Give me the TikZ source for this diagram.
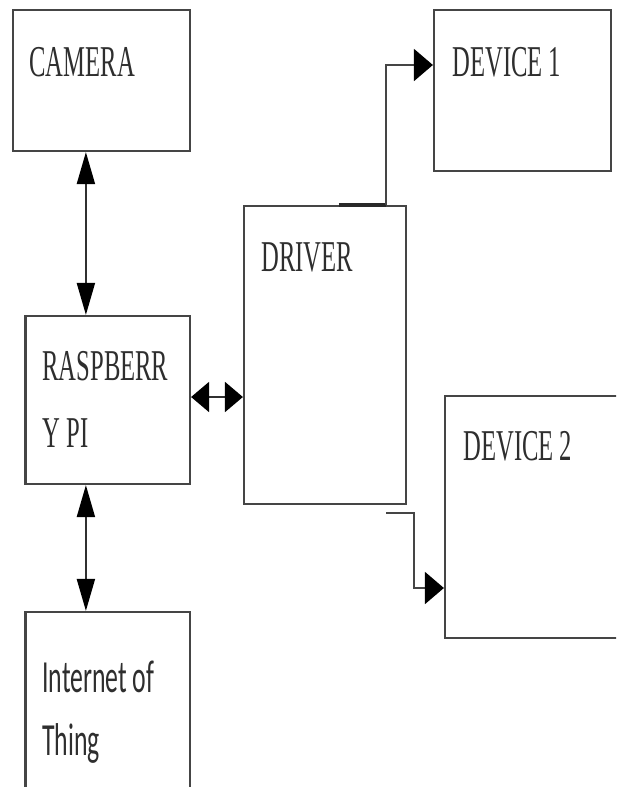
\documentclass[tikz,border=0pt]{standalone}
\usepackage{fontspec}
\setmainfont{Liberation Serif}
\newfontfamily\iotfont{Carlito}
\usetikzlibrary{arrows.meta, positioning}

\definecolor{boxline}{HTML}{454545}
\definecolor{boxtext}{HTML}{2E2E2E}
\newcommand{\squeeze}[1]{\scalebox{0.56}[1]{#1}}

\begin{document}
\begin{tikzpicture}[x=0.5pt, y=-0.5pt,
    box/.style={draw=boxline, line width=1.1pt, inner sep=0pt},
    lbl/.style={anchor=base west, inner sep=0pt, text=boxtext, align=left,
      font=\fontsize{22}{33.5}\selectfont},
    varr/.style={draw=boxline!70!black, line width=1pt,
      {Triangle[length=16pt,width=9pt,black]}-{Triangle[length=16pt,width=9pt,black]}},
    harr/.style={draw=boxline!70!black, line width=1pt,
      {Triangle[length=9pt,width=15pt,black]}-{Triangle[length=9pt,width=15pt,black]}},
    farr/.style={draw=boxline, line width=1pt, -{Triangle[length=9.5pt,width=16pt,black]}}]
      \useasboundingbox (0,0) rectangle (616,787);
      \clip (0,0) rectangle (616,787);

      % blocks
      \node[box, minimum width=88.5pt, minimum height=70.5pt] (cam) at (101.5,80.5) {};
      \node[box, minimum width=82.25pt, minimum height=84pt] (rpi) at (107.75,400) {};
      \node[box, minimum width=82.25pt, minimum height=100pt] (iot) at (107.75,712) {};
      \node[box, minimum width=81pt, minimum height=149pt] (drv) at (325,355) {};
      \node[box, minimum width=88.5pt, minimum height=80.5pt] (dev1) at (522.5,90.5) {};
      \node[box, minimum width=100pt, minimum height=121pt] (dev2) at (545,517) {};

      % texts (base of multi-line labels is their last line)
      \node[lbl] (camtxt) at (29,76) {\squeeze{CAMERA}};
      \node[lbl] (rpitxt) at (42,447) {\squeeze{RASPBERR}\\\squeeze{Y PI}};
      \node[lbl, font=\iotfont\fontsize{23}{31.5}\selectfont] (iottxt) at (42,755)
        {\squeeze{Internet of}\\\squeeze{Thing}};
      \node[lbl] (drvtxt) at (261,271) {\squeeze{DRIVER}};
      \node[lbl] (dev1txt) at (452,76) {\squeeze{DEVICE 1}};
      \node[lbl] (dev2txt) at (463,460) {\squeeze{DEVICE 2}};

      % links
      \draw[varr] ([xshift=37pt]cam.south west) -- ([xshift=37pt]cam.south west |- rpi.north);
      \draw[varr] ([xshift=30.75pt]rpi.south west) -- ([xshift=30.75pt]rpi.south west |- iot.north);
      \draw[harr] ([yshift=1.5pt]rpi.east) -- ([yshift=1.5pt]rpi.east -| drv.west);

      \draw[draw=boxline!60!black, line width=2.2pt] ([xshift=48pt]drv.north west) -- ([xshift=71.5pt]drv.north west);
      \draw[farr] ([xshift=71.5pt]drv.north west) |- ([yshift=12.75pt]dev1.west);
      \draw[farr] ([xshift=-10.5pt,yshift=-4pt]drv.south east) -- ++(14pt,0) |- ([yshift=-35.5pt]dev2.west);
    \end{tikzpicture}
\end{document}
